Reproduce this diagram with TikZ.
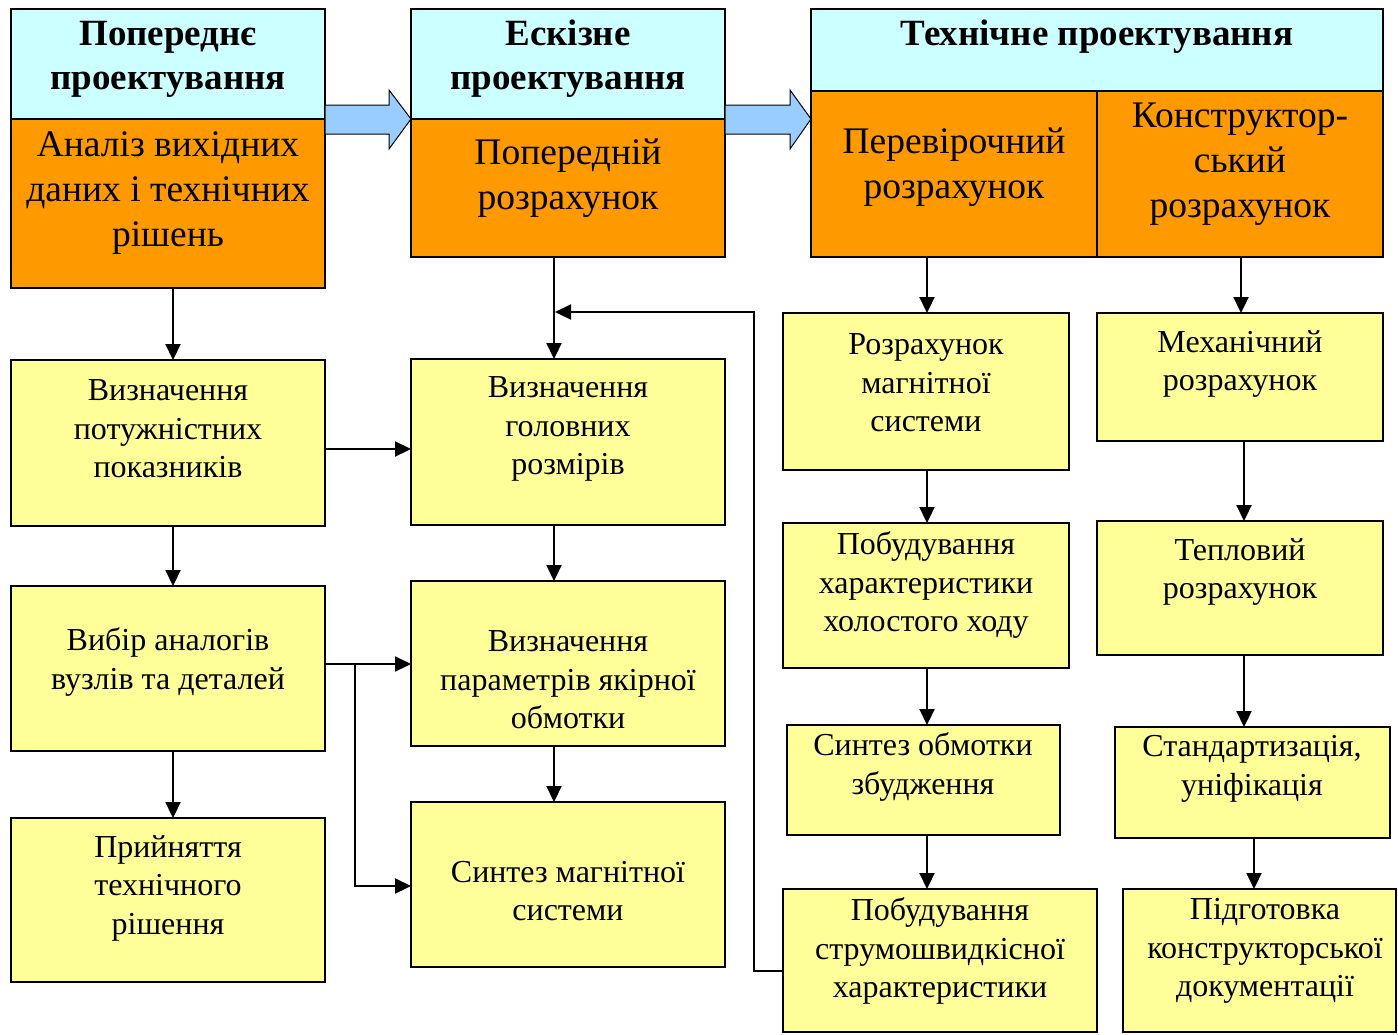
\documentclass[tikz,border=0pt]{standalone}
\usepackage{fontspec}
\setmainfont{LiberationSerif}[Extension=.ttf, UprightFont=*-Regular, BoldFont=*-Bold, ItalicFont=*-Italic, BoldItalicFont=*-BoldItalic]
\usetikzlibrary{arrows.meta}
\definecolor{cyanc}{HTML}{CCFFFF}
\definecolor{orangec}{HTML}{FF9900}
\definecolor{yellowc}{HTML}{FFFF99}
\definecolor{bluec}{HTML}{99CCFF}
\tikzset{
  boxbase/.style={draw=black, line width=1.8pt, inner sep=0pt, outer sep=0pt, anchor=north west},
  hdr/.style={boxbase, fill=cyanc},
  org/.style={boxbase, fill=orangec},
  ybox/.style={boxbase, fill=yellowc},
  txt/.style={align=center, inner sep=0pt, font=\fontsize{32}{38.5}\selectfont},
  otxt/.style={align=center, inner sep=0pt, font=\fontsize{37.5}{45}\selectfont},
  htxt/.style={align=center, inner sep=0pt, font=\bfseries\fontsize{37}{44}\selectfont},
  arr/.style={line width=2.2pt, -{Triangle[length=16pt,width=15pt]}},
  bigarrow/.style={fill=bluec, draw=black, line width=1pt, line join=miter}
}
\begin{document}
\begin{tikzpicture}[x=1pt,y=-1pt]
\useasboundingbox (0,0) rectangle (1398,1034);
% column 1
\node[hdr, minimum width=314pt, minimum height=110pt] (h1) at (11,9) {};
\node[org, minimum width=314pt, minimum height=169pt] (o1) at (11,119) {};
\node[ybox, minimum width=314pt, minimum height=166pt] (a1) at (11,360) {};
\node[ybox, minimum width=314pt, minimum height=165pt] (a2) at (11,586) {};
\node[ybox, minimum width=314pt, minimum height=164pt] (a3) at (11,818) {};
% column 2
\node[hdr, minimum width=314pt, minimum height=110pt] (h2) at (411,9) {};
\node[org, minimum width=314pt, minimum height=138pt] (o2) at (411,119) {};
\node[ybox, minimum width=314pt, minimum height=166pt] (b1) at (411,359) {};
\node[ybox, minimum width=314pt, minimum height=165pt] (b2) at (411,581) {};
\node[ybox, minimum width=314pt, minimum height=165pt] (b3) at (411,802) {};
% column 3
\node[hdr, minimum width=572pt, minimum height=82pt] (h3) at (811,9) {};
\node[org, minimum width=286pt, minimum height=166pt] (o3) at (811,91) {};
\node[org, minimum width=286pt, minimum height=166pt] (o4) at (1097,91) {};
\node[ybox, minimum width=286pt, minimum height=157pt] (c1) at (783,313) {};
\node[ybox, minimum width=286pt, minimum height=145pt] (c2) at (783,523) {};
\node[ybox, minimum width=273pt, minimum height=110pt] (c3) at (787,725) {};
\node[ybox, minimum width=314pt, minimum height=143pt] (c4) at (783,889) {};
\node[ybox, minimum width=286pt, minimum height=128pt] (d1) at (1097,313) {};
\node[ybox, minimum width=286pt, minimum height=134pt] (d2) at (1097,521) {};
\node[ybox, minimum width=275pt, minimum height=111pt] (d3) at (1115,727) {};
\node[ybox, minimum width=273pt, minimum height=143pt] (d4) at (1123,889) {};
% texts
\node[htxt] (th1) at (168,59) {Попереднє\\проектування};
\node[htxt] (th2) at (568,59) {Ескізне\\проектування};
\node[htxt] (th3) at (1097,37) {Технічне проектування};
\node[otxt] (to1) at (168,193) {Аналіз вихідних\\даних і технічних\\рішень};
\node[otxt] (to2) at (568,178) {Попередній\\розрахунок};
\node[otxt] (to3) at (954,167) {Перевірочний\\розрахунок};
\node[otxt] (to4) at (1240,164) {Конструктор-\\ський\\розрахунок};
\node[txt] (ta1) at (168,429) {Визначення\\потужністних\\показників};
\node[txt] (ta2) at (168,662) {Вибір аналогів\\вузлів та деталей};
\node[txt] (ta3) at (168,888) {Прийняття\\технічного\\рішення};
\node[txt] (tb1) at (568,429) {Визначення\\головних\\розмірів};
\node[txt] (tb2) at (568,680) {Визначення\\параметрів якірної\\обмотки};
\node[txt] (tb3) at (568,891) {Синтез магнітної\\системи};
\node[txt] (tc1) at (926,383) {Розрахунок\\магнітної\\системи};
\node[txt] (tc2) at (926,585) {Побудування\\характеристики\\холостого ходу};
\node[txt] (tc3) at (923,767) {Синтез обмотки\\збудження};
\node[txt] (tc4) at (940,951) {Побудування\\струмошвидкісної\\характеристики};
\node[txt] (td1) at (1240,364) {Механічний\\розрахунок};
\node[txt] (td2) at (1240,572) {Тепловий\\розрахунок};
\node[txt] (td3) at (1252,769) {Стандартизація,\\уніфікація};
\node[txt] (td4) at (1265,951) {Підготовка\\конструкторської\\документації};
% big arrows
\draw[bigarrow] (h1.east |- 0,105) -- (389,105) -- (389,90) -- (h2.south west) -- (389,149) -- (389,134) -- (h1.east |- 0,134) -- cycle;
\draw[bigarrow] (h2.east |- 0,105) -- (790,105) -- (790,90) -- (o3.north west |- 0,119) -- (790,149) -- (790,134) -- (h2.east |- 0,134) -- cycle;
% column 1 arrows
\draw[arr] (o1.south -| 173,0) -- (a1.north -| 173,0);
\draw[arr] (a1.south -| 173,0) -- (a2.north -| 173,0);
\draw[arr] (a2.south -| 173,0) -- (a3.north -| 173,0);
\draw[arr] (a1.east |- 0,449) -- (b1.west |- 0,449);
\draw[arr] (a2.east |- 0,664) -- (b2.west |- 0,664);
\draw[arr] (355,664) |- (b3.west |- 0,886);
% column 2 arrows
\draw[arr] (o2.south -| 554,0) -- (b1.north -| 554,0);
\draw[arr] (b1.south -| 554,0) -- (b2.north -| 554,0);
\draw[arr] (b2.south -| 554,0) -- (b3.north -| 554,0);
% feedback
\draw[arr] (c4.west |- 0,971) -- (754,971) |- (555,312);
% column 3 arrows
\draw[arr] (o3.south -| 927,0) -- (c1.north -| 927,0);
\draw[arr] (c1.south -| 927,0) -- (c2.north -| 927,0);
\draw[arr] (c2.south -| 927,0) -- (c3.north -| 927,0);
\draw[arr] (c3.south -| 927,0) -- (c4.north -| 927,0);
\draw[arr] (o4.south -| 1241,0) -- (d1.north -| 1241,0);
\draw[arr] (d1.south -| 1244,0) -- (d2.north -| 1244,0);
\draw[arr] (d2.south -| 1244,0) -- (d3.north -| 1244,0);
\draw[arr] (d3.south -| 1254,0) -- (d4.north -| 1254,0);
\end{tikzpicture}
\end{document}
